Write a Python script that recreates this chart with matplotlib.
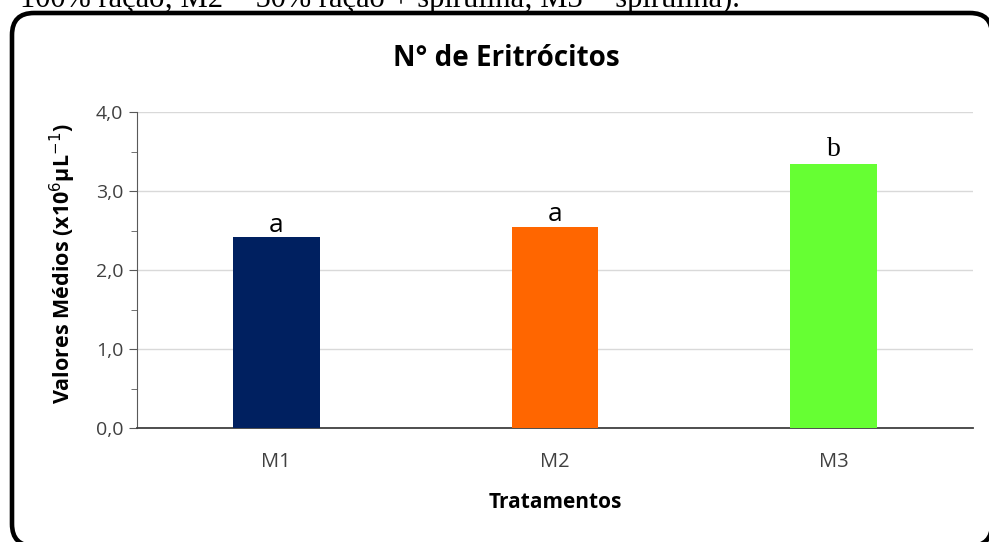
import matplotlib
matplotlib.use("Agg")
import matplotlib.pyplot as plt
from matplotlib.patches import FancyBboxPatch
from matplotlib.ticker import MultipleLocator, FuncFormatter

# data
tratamentos = ['M1', 'M2', 'M3']
eritrocitos = [2.42, 2.55, 3.34]
letras = ['a', 'a', 'b']
cores = ['#002060', '#FF6600', '#66FF33']

W, H = 989, 542
fig = plt.figure(figsize=(W / 100, H / 100), dpi=100)

# caption fragment cut at the top of the page
fig.text(20 / W, 1 - 7 / H, '100% ração; M2 = 50% ração + spirulina; M3 = spirulina).',
         family='Liberation Serif', fontsize=22, va='baseline', ha='left', color='black')

# rounded frame around the chart (right and bottom edges fall just outside the picture)
bg = fig.add_axes([0, 0, 1, 1], zorder=-1)
bg.set_xlim(0, W)
bg.set_ylim(H, 0)
bg.axis('off')
frame = FancyBboxPatch((12, 13), 980, 533, boxstyle='round,pad=0,rounding_size=22',
                       fc='white', ec='black', lw=3.3, clip_on=False)
bg.add_patch(frame)

ax = fig.add_axes([137 / W, 1 - 428 / H, (973 - 137) / W, (428 - 112) / H])
ax.set_facecolor('none')
x = range(len(tratamentos))
ax.bar(x, eritrocitos, width=0.31, color=cores, zorder=3)

for i, (v, l) in enumerate(zip(eritrocitos, letras)):
    if l == 'b':
        ax.text(i, v + 0.03, l, ha='center', va='bottom', family='Liberation Serif',
                fontsize=20, zorder=4)
    else:
        ax.text(i, v - 0.01, l, ha='center', va='bottom', family='Open Sans',
                fontsize=19, zorder=4)

ax.set_xlim(-0.5, 2.5)
ax.set_ylim(0, 4)
ax.set_xticks(list(x))
ax.set_xticklabels(tratamentos)
ax.yaxis.set_major_locator(MultipleLocator(1))
ax.yaxis.set_minor_locator(MultipleLocator(0.5))
ax.yaxis.set_major_formatter(FuncFormatter(lambda v, p: f'{v:.1f}'.replace('.', ',')))
ax.grid(axis='y', color='#d9d9d9', lw=1, zorder=0)

for s in ['top', 'right']:
    ax.spines[s].set_visible(False)
ax.spines['left'].set_color('#595959')
ax.spines['bottom'].set_color('#404040')
ax.spines['bottom'].set_linewidth(1.3)
ax.tick_params(axis='x', length=0, pad=17, labelsize=14.5, labelcolor='#404040')
ax.tick_params(axis='y', which='major', length=6, color='#595959', labelsize=14,
               labelcolor='#404040', pad=4)
ax.tick_params(axis='y', which='minor', length=4, color='#595959')
for t in ax.get_xticklabels() + ax.get_yticklabels():
    t.set_family('Open Sans')

fig.text(506 / W, 1 - 59 / H, 'N° de Eritrócitos', family='Open Sans', fontweight='bold',
         fontsize=20, ha='center', va='center')
ax.set_xlabel('Tratamentos', family='Open Sans', fontweight='bold', fontsize=15,
              va='center')
ax.xaxis.set_label_coords(0.5, (428 - 502) / 316)
ax.set_ylabel('Valores Médios (x10$^{6}$µL$^{-1}$)', family='Open Sans',
              fontweight='bold', fontsize=15.5, va='center')
ax.yaxis.set_label_coords((63 - 137) / 836, (428 - 264) / 316)

fig.savefig('out.png', dpi=100)
